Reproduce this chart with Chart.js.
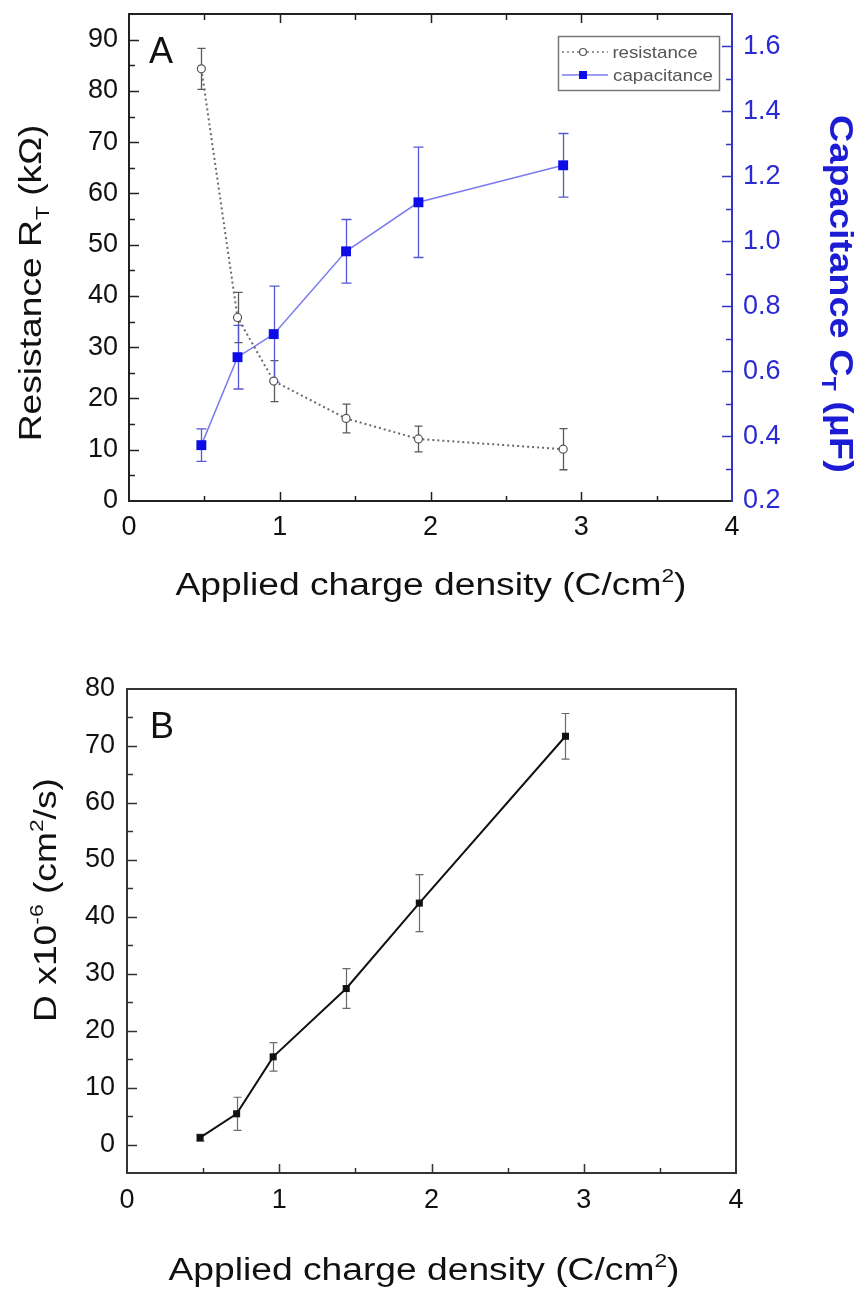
<!DOCTYPE html>
<html><head><meta charset="utf-8">
<script src="https://cdn.jsdelivr.net/npm/chart.js@4.4.1/dist/chart.umd.min.js"></script>
<style>
html,body{margin:0;padding:0;background:#fff;width:858px;height:1295px;overflow:hidden}
canvas{position:absolute;left:0}
#a{top:0}
#b{top:640px}
</style></head><body>
<canvas id="a" width="858" height="640"></canvas>
<canvas id="b" width="858" height="655"></canvas>
<script>
// ---------- data ----------
const chargeDensity   = [0.48, 0.72, 0.96, 1.44, 1.92, 2.88];
const resistance      = [84.3, 35.8, 23.4, 16.1, 12.1, 10.1];
const resistanceErr   = [4.0, 4.9, 4.0, 2.8, 2.5, 4.0];
const capacitance     = [0.372, 0.643, 0.714, 0.969, 1.12, 1.234];
const capacitanceErr  = [0.05, 0.098, 0.148, 0.098, 0.17, 0.098];
const diffusion       = [1.2, 5.4, 15.4, 27.4, 42.4, 71.7];
const diffusionErr    = [0.6, 2.9, 2.5, 3.5, 5.0, 4.0];
const xTickValues     = [0, 1, 2, 3, 4];
const resistanceTicks = [0, 10, 20, 30, 40, 50, 60, 70, 80, 90];
const capacitanceTicks= [0.2, 0.4, 0.6, 0.8, 1.0, 1.2, 1.4, 1.6];
const diffusionTicks  = [0, 10, 20, 30, 40, 50, 60, 70, 80];

const FAM = "'Liberation Sans', Arial, sans-serif";
const BLUE_AX = '#3434c6';

function drawRich(ctx, segs, cx, cy, rot, size, sx, color, weight) {
  ctx.save();
  ctx.fillStyle = color;
  const fontFor = s => `${weight || 'normal'} ${s.k ? Math.round(size * 0.6) : size}px ${FAM}`;
  let w = 0;
  for (const s of segs) { ctx.font = fontFor(s); w += ctx.measureText(s.t).width; }
  ctx.translate(cx, cy); ctx.rotate(rot); ctx.scale(sx, 1);
  ctx.textBaseline = 'alphabetic'; ctx.textAlign = 'left';
  let x = -w / 2; const base = size * 0.36;
  for (const s of segs) {
    ctx.font = fontFor(s);
    const dy = s.k === 'sub' ? size * 0.26 : s.k === 'sup' ? -size * 0.42 : 0;
    ctx.fillText(s.t, x, base + dy);
    x += ctx.measureText(s.t).width;
  }
  ctx.restore();
}

function mids(arr) { const r = []; for (let i = 0; i < arr.length - 1; i++) r.push((arr[i] + arr[i + 1]) / 2); return r; }

function tickMarks(ctx, scale, values, len, side, color, width, area) {
  ctx.save(); ctx.strokeStyle = color; ctx.lineWidth = width; ctx.beginPath();
  for (const v of values) {
    const p = Math.round(scale.getPixelForValue(v)) + 0.5;
    if (side === 'bottom') { ctx.moveTo(p, area.bottom); ctx.lineTo(p, area.bottom - len); }
    if (side === 'top') { ctx.moveTo(p, area.top); ctx.lineTo(p, area.top + len); }
    if (side === 'left') { ctx.moveTo(area.left, p); ctx.lineTo(area.left + len, p); }
    if (side === 'right') { ctx.moveTo(area.right, p); ctx.lineTo(area.right - len, p); }
  }
  ctx.stroke(); ctx.restore();
}

function errBars(chart, xs, ys, errs, scaleId, color, width, cap) {
  const ctx = chart.ctx, xS = chart.scales.x, yS = chart.scales[scaleId];
  ctx.save(); ctx.strokeStyle = color; ctx.lineWidth = width; ctx.beginPath();
  xs.forEach((xv, i) => {
    const px = Math.round(xS.getPixelForValue(xv)) + 0.5;
    const t = yS.getPixelForValue(ys[i] + errs[i]);
    const b = yS.getPixelForValue(ys[i] - errs[i]);
    ctx.moveTo(px, t); ctx.lineTo(px, b);
    ctx.moveTo(px - cap, t); ctx.lineTo(px + cap, t);
    ctx.moveTo(px - cap, b); ctx.lineTo(px + cap, b);
  });
  ctx.stroke(); ctx.restore();
}

function line(ctx, x1, y1, x2, y2, color, w) {
  ctx.save(); ctx.strokeStyle = color; ctx.lineWidth = w; ctx.beginPath();
  ctx.moveTo(x1, y1); ctx.lineTo(x2, y2); ctx.stroke(); ctx.restore();
}

const tickFont = { family: FAM, size: 27 };
function noPadV(s, w) { s.width = w; s.paddingTop = 0; s.paddingBottom = 0; }
function noPadH(s, h) { s.height = h; s.paddingLeft = 0; s.paddingRight = 0; }

// ---------- Panel A ----------
const decoA = {
  id: 'decoA',
  beforeDatasetsDraw(chart) {
    errBars(chart, chargeDensity, resistance, resistanceErr, 'y', '#5a5a5a', 1.3, 4);
    errBars(chart, chargeDensity, capacitance, capacitanceErr, 'y1', '#5656d8', 1.3, 5);
  },
  afterDraw(chart) {
    const ctx = chart.ctx, a = chart.chartArea;
    const { x, y, y1 } = chart.scales;
    line(ctx, a.left, a.top, a.right, a.top, '#222', 2);
    line(ctx, a.left, a.top - 1, a.left, a.bottom + 1, '#222', 2);
    line(ctx, a.left - 1, a.bottom, a.right, a.bottom, '#222', 2);
    line(ctx, a.right, a.top - 1, a.right, a.bottom + 1, BLUE_AX, 2);
    tickMarks(ctx, x, xTickValues.slice(1, -1), 9, 'bottom', '#222', 1.5, a);
    tickMarks(ctx, x, mids(xTickValues), 5, 'bottom', '#222', 1.5, a);
    tickMarks(ctx, x, xTickValues.slice(1, -1), 9, 'top', '#222', 1.5, a);
    tickMarks(ctx, x, mids(xTickValues), 6, 'top', '#222', 1.5, a);
    tickMarks(ctx, y, resistanceTicks.slice(1), 10, 'left', '#222', 1.5, a);
    tickMarks(ctx, y, mids(resistanceTicks), 6, 'left', '#222', 1.5, a);
    tickMarks(ctx, y1, capacitanceTicks.slice(1), 10, 'right', BLUE_AX, 1.5, a);
    tickMarks(ctx, y1, mids(capacitanceTicks), 6, 'right', BLUE_AX, 1.5, a);
    drawRich(ctx, [{ t: 'Resistance R' }, { t: 'T', k: 'sub' }, { t: ' (k\u03A9)' }], 30, 283, -Math.PI / 2, 31, 1.2, '#111');
    drawRich(ctx, [{ t: 'Capacitance C' }, { t: 'T', k: 'sub' }, { t: ' (\u03BCF)' }], 842, 294, Math.PI / 2, 33, 1.15, '#1c1cd4', 'bold');
    drawRich(ctx, [{ t: 'Applied charge density (C/cm' }, { t: '2', k: 'sup' }, { t: ')' }], 431, 584, 0, 31, 1.2, '#111');
    drawRich(ctx, [{ t: 'A' }], 161, 50, 0, 36, 1.0, '#111');
    // legend
    ctx.save();
    ctx.strokeStyle = '#777'; ctx.lineWidth = 1.5;
    ctx.strokeRect(558.5, 36.5, 161, 54);
    ctx.strokeStyle = '#777'; ctx.lineWidth = 1.5; ctx.setLineDash([2, 3]);
    ctx.beginPath(); ctx.moveTo(562, 52); ctx.lineTo(608, 52); ctx.stroke();
    ctx.setLineDash([]);
    ctx.fillStyle = '#fff'; ctx.strokeStyle = '#555'; ctx.lineWidth = 1.2;
    ctx.beginPath(); ctx.arc(583, 52, 3.5, 0, Math.PI * 2); ctx.fill(); ctx.stroke();
    ctx.strokeStyle = '#7b7bef'; ctx.lineWidth = 1.5;
    ctx.beginPath(); ctx.moveTo(562, 75); ctx.lineTo(608, 75); ctx.stroke();
    ctx.fillStyle = '#0c0ce8'; ctx.fillRect(579, 71, 8, 8);
    ctx.restore();
    drawRich(ctx, [{ t: 'resistance' }], 655, 52, 0, 17, 1.1, '#555');
    drawRich(ctx, [{ t: 'capacitance' }], 663, 75, 0, 17, 1.1, '#555');
  }
};

new Chart(document.getElementById('a'), {
  type: 'line',
  data: {
    datasets: [
      {
        label: 'resistance',
        data: chargeDensity.map((x, i) => ({ x, y: resistance[i] })),
        yAxisID: 'y',
        borderColor: '#6a6a6a', borderWidth: 2, borderDash: [2, 3],
        pointStyle: 'circle', pointRadius: 4, pointBackgroundColor: '#fff',
        pointBorderColor: '#555', pointBorderWidth: 1.2, tension: 0
      },
      {
        label: 'capacitance',
        data: chargeDensity.map((x, i) => ({ x, y: capacitance[i] })),
        yAxisID: 'y1',
        borderColor: '#7b7bef', borderWidth: 1.5,
        pointStyle: 'rect', pointRadius: 7, pointBackgroundColor: '#0c0ce8',
        pointBorderColor: '#0c0ce8', pointBorderWidth: 0, tension: 0
      }
    ]
  },
  options: {
    responsive: false, animation: false, devicePixelRatio: 1, events: [],
    layout: { padding: { top: 14, left: 0, right: 0, bottom: 0 } },
    plugins: { legend: { display: false }, tooltip: { enabled: false } },
    scales: {
      x: {
        type: 'linear', min: 0, max: 4, position: 'bottom',
        afterFit: s => noPadH(s, 139),
        afterBuildTicks: s => { s.ticks = xTickValues.map(v => ({ value: v })); },
        grid: { display: false, drawTicks: false }, border: { display: false },
        ticks: { padding: 10, font: tickFont, color: '#111', maxRotation: 0, autoSkip: false }
      },
      y: {
        type: 'linear', position: 'left', min: 0, max: 95,
        afterFit: s => noPadV(s, 129),
        afterBuildTicks: s => { s.ticks = resistanceTicks.map(v => ({ value: v })); },
        grid: { display: false, drawTicks: false }, border: { display: false },
        ticks: { padding: 11, font: tickFont, color: '#111' }
      },
      y1: {
        type: 'linear', position: 'right', min: 0.2, max: 1.7,
        afterFit: s => noPadV(s, 126),
        afterBuildTicks: s => { s.ticks = capacitanceTicks.map(v => ({ value: v })); },
        grid: { display: false, drawTicks: false }, border: { display: false },
        ticks: { padding: 11, font: tickFont, color: '#2a2ad2', callback: v => Number(v).toFixed(1) }
      }
    }
  },
  plugins: [decoA]
});

// ---------- Panel B ----------
const decoB = {
  id: 'decoB',
  beforeDatasetsDraw(chart) {
    errBars(chart, chargeDensity, diffusion, diffusionErr, 'y', '#6a6a6a', 1.2, 4);
  },
  afterDraw(chart) {
    const ctx = chart.ctx, a = chart.chartArea;
    const { x, y } = chart.scales;
    line(ctx, a.left, a.top, a.right, a.top, '#333', 2);
    line(ctx, a.left, a.top - 1, a.left, a.bottom + 1, '#333', 2);
    line(ctx, a.left - 1, a.bottom, a.right + 1, a.bottom, '#333', 2);
    line(ctx, a.right, a.top - 1, a.right, a.bottom + 1, '#333', 2);
    tickMarks(ctx, x, xTickValues.slice(1, -1), 9, 'bottom', '#333', 1.5, a);
    tickMarks(ctx, x, mids(xTickValues), 5, 'bottom', '#333', 1.5, a);
    tickMarks(ctx, y, diffusionTicks.slice(0, -1), 10, 'left', '#333', 1.5, a);
    tickMarks(ctx, y, mids(diffusionTicks), 6, 'left', '#333', 1.5, a);
    drawRich(ctx, [{ t: 'D x10' }, { t: '-6', k: 'sup' }, { t: ' (cm' }, { t: '2', k: 'sup' }, { t: '/s)' }], 45, 260, -Math.PI / 2, 31, 1.2, '#111');
    drawRich(ctx, [{ t: 'Applied charge density (C/cm' }, { t: '2', k: 'sup' }, { t: ')' }], 424, 629, 0, 31, 1.2, '#111');
    drawRich(ctx, [{ t: 'B' }], 162, 85, 0, 36, 1.0, '#111');
  }
};

new Chart(document.getElementById('b'), {
  type: 'line',
  data: {
    datasets: [{
      label: 'D',
      data: chargeDensity.map((x, i) => ({ x, y: diffusion[i] })),
      borderColor: '#111', borderWidth: 2,
      pointStyle: 'rect', pointRadius: 5, pointBackgroundColor: '#111',
      pointBorderColor: '#111', pointBorderWidth: 0, tension: 0
    }]
  },
  options: {
    responsive: false, animation: false, devicePixelRatio: 1, events: [],
    layout: { padding: { top: 49, left: 0, right: 122, bottom: 0 } },
    plugins: { legend: { display: false }, tooltip: { enabled: false } },
    scales: {
      x: {
        type: 'linear', min: 0, max: 4, position: 'bottom',
        afterFit: s => noPadH(s, 122),
        afterBuildTicks: s => { s.ticks = xTickValues.map(v => ({ value: v })); },
        grid: { display: false, drawTicks: false }, border: { display: false },
        ticks: { padding: 11, font: tickFont, color: '#111', maxRotation: 0, autoSkip: false }
      },
      y: {
        type: 'linear', position: 'left', min: -5, max: 80,
        afterFit: s => noPadV(s, 127),
        afterBuildTicks: s => { s.ticks = diffusionTicks.map(v => ({ value: v })); },
        grid: { display: false, drawTicks: false }, border: { display: false },
        ticks: { padding: 12, font: tickFont, color: '#111' }
      }
    }
  },
  plugins: [decoB]
});
</script>
</body></html>
